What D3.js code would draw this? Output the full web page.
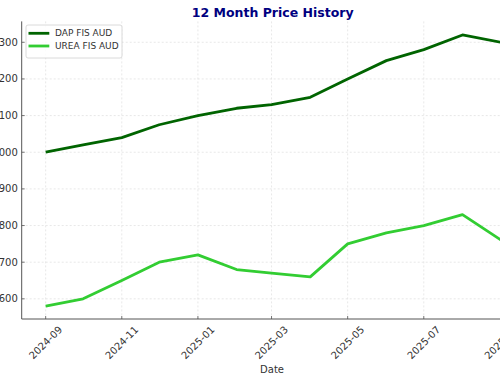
<!DOCTYPE html>
<html>
<head>
<meta charset="utf-8">
<script src="https://cdn.jsdelivr.net/npm/d3@7"></script>
<style>
  html, body { margin: 0; padding: 0; background: #fff; }
  svg { display: block; font-family: "DejaVu Sans", sans-serif; }
</style>
</head>
<body>
<svg id="chart" width="500" height="383"></svg>
<script>
// ---- data ----
const months = ["2024-09","2024-10","2024-11","2024-12","2025-01","2025-02","2025-03",
                "2025-04","2025-05","2025-06","2025-07","2025-08","2025-09"];
const dapValues  = [1000, 1020, 1040, 1075, 1100, 1120, 1130, 1150, 1200, 1250, 1280, 1320, 1300];
const ureaValues = [580, 600, 650, 700, 720, 680, 670, 660, 750, 780, 800, 830, 760];
const seriesNames = ["DAP FIS AUD", "UREA FIS AUD"];
const seriesColors = ["#006400", "#32cd32"];
const xTickLabels = ["2024-09","2024-11","2025-01","2025-03","2025-05","2025-07","2025-09"];
const yTickValues = [600, 700, 800, 900, 1000, 1100, 1200, 1300];
const titleText = "12 Month Price History";
const xLabelText = "Date";

// ---- layout ----
const svg = d3.select("#chart");
const parse = d3.utcParse("%Y-%m");
const fmt = d3.utcFormat("%Y-%m");
const dates = months.map(parse);
const DAY = 86400000;

const pL = 21.7, pR = 524, pT = 21.4, pB = 319;
const x = d3.scaleUtc()
  .domain([new Date(+dates[0] - 19.2 * DAY), new Date(+dates[dates.length - 1] + 18.3 * DAY)])
  .range([pL, pR]);
const y = d3.scaleLinear().domain([545, 1357]).range([pB, pT]);

const xTicks = xTickLabels.map(parse);

// grid
const grid = svg.append("g").attr("stroke", "#e2e2e2").attr("stroke-width", 0.8)
  .attr("stroke-dasharray", "2,2");
grid.selectAll("line.v").data(xTicks).join("line").attr("class", "v")
  .attr("x1", d => x(d)).attr("x2", d => x(d)).attr("y1", pT).attr("y2", pB);
grid.selectAll("line.h").data(yTickValues).join("line").attr("class", "h")
  .attr("x1", pL).attr("x2", pR).attr("y1", d => y(d)).attr("y2", d => y(d));

// lines
const series = [dapValues, ureaValues];
const line = d3.line().x((d, i) => x(dates[i])).y(d => y(d));
svg.append("g").selectAll("path").data(series).join("path")
  .attr("fill", "none")
  .attr("stroke", (d, i) => seriesColors[i])
  .attr("stroke-width", 2.8)
  .attr("stroke-linejoin", "round")
  .attr("d", line);

// spines
svg.append("line").attr("x1", pL).attr("x2", pL).attr("y1", pT).attr("y2", pB)
  .attr("stroke", "#555").attr("stroke-width", 1);
svg.append("line").attr("x1", pL).attr("x2", pR).attr("y1", pB).attr("y2", pB)
  .attr("stroke", "#555").attr("stroke-width", 1);

// x ticks (inward) + rotated labels
const xt = svg.append("g");
xt.selectAll("line").data(xTicks).join("line")
  .attr("x1", d => x(d)).attr("x2", d => x(d)).attr("y1", pB).attr("y2", pB - 3)
  .attr("stroke", "#555").attr("stroke-width", 0.8);
xt.selectAll("text").data(xTicks).join("text")
  .attr("transform", d => `translate(${x(d)},342.5) rotate(-45)`)
  .attr("text-anchor", "middle").attr("dominant-baseline", "central")
  .attr("font-size", 10).attr("fill", "#333")
  .text(d => fmt(d));

// y ticks (inward) + labels
const yt = svg.append("g");
yt.selectAll("line").data(yTickValues).join("line")
  .attr("x1", pL).attr("x2", pL + 3).attr("y1", d => y(d)).attr("y2", d => y(d))
  .attr("stroke", "#555").attr("stroke-width", 0.8);
yt.selectAll("text").data(yTickValues).join("text")
  .attr("x", 17.8).attr("y", d => y(d)).attr("dy", "0.35em")
  .attr("text-anchor", "end").attr("font-size", 10).attr("fill", "#333")
  .text(d => d);

// title
svg.append("text").attr("x", 272.7).attr("y", 16.5).attr("text-anchor", "middle")
  .attr("font-size", 12.5).attr("font-weight", "bold").attr("fill", "#000080")
  .text(titleText);

// x label
svg.append("text").attr("x", 272).attr("y", 373).attr("text-anchor", "middle")
  .attr("font-size", 10).attr("fill", "#333").text(xLabelText);

// legend
const lg = svg.append("g");
lg.append("rect").attr("x", 26).attr("y", 25).attr("width", 96).attr("height", 33)
  .attr("rx", 2).attr("fill", "#fff").attr("fill-opacity", 0.85)
  .attr("stroke", "#d0d0d0").attr("stroke-width", 0.8);
seriesNames.forEach((name, i) => {
  const yy = 33.3 + i * 12.7;
  lg.append("line").attr("x1", 28.5).attr("x2", 49.3).attr("y1", yy).attr("y2", yy)
    .attr("stroke", seriesColors[i]).attr("stroke-width", 2.8);
  lg.append("text").attr("x", 55).attr("y", yy).attr("dy", "0.35em")
    .attr("font-size", 9).attr("fill", "#333").text(name);
});
</script>
</body>
</html>
